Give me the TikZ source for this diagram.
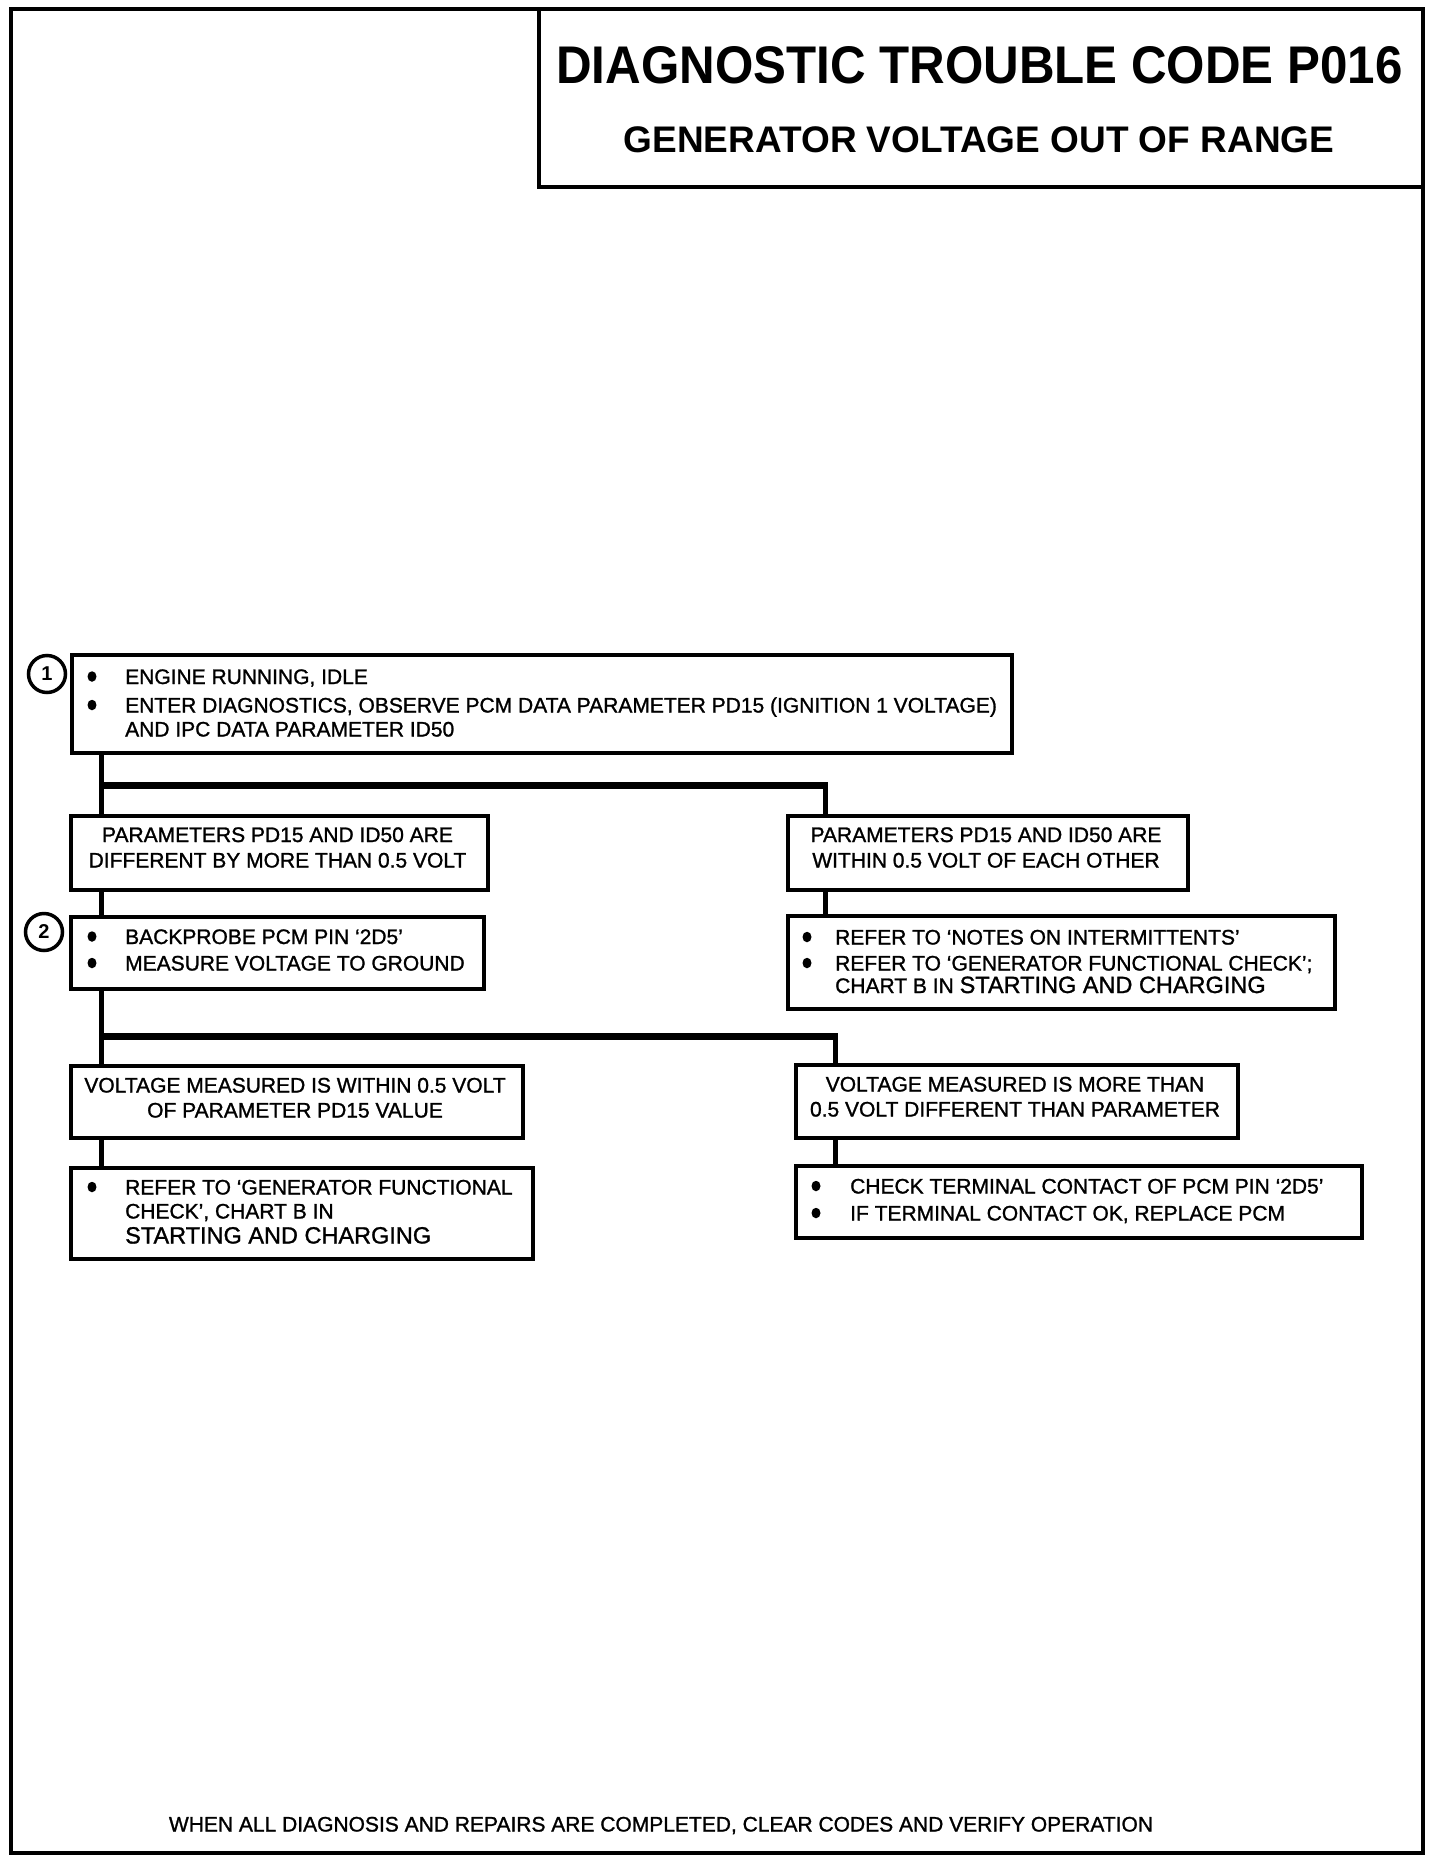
\documentclass[tikz,border=0pt]{standalone}
\usepackage{fontspec}
\usetikzlibrary{shapes.geometric}
\setmainfont{Liberation Sans}[FakeBold=1.2]
\newfontfamily\titlefont{Liberation Sans}[FakeStretch=0.93]
\newfontfamily\subfont{Liberation Sans}
\begin{document}
\begin{tikzpicture}[x=1pt,y=-1pt,
  frame/.style={draw, line width=4pt, inner sep=0pt, anchor=north west},
  box/.style={draw, line width=4pt, inner sep=0pt, anchor=north west},
  txt/.style={font=\fontsize{21}{25}\selectfont, inner sep=0pt, anchor=base west},
  ctxt/.style={font=\fontsize{21}{25}\selectfont, inner sep=0pt, anchor=base},
  dot/.style={ellipse, fill, minimum width=9pt, minimum height=10.5pt, inner sep=0pt},
  numc/.style={circle, draw, line width=3.5pt, minimum size=37pt, inner sep=0pt, font=\subfont\bfseries\fontsize{20}{20}\selectfont},
  vline/.style={line width=5pt},
  hbar/.style={line width=7pt}]
\useasboundingbox (0,0) rectangle (1440,1860);
% outer frame and title box
\node[frame, minimum width=1412.5pt, minimum height=1843.5pt] (outer) at (8.5,7.5) {};
\node[frame, minimum width=884pt, minimum height=177.5pt] (tb) at (537,7.5) {};
\node[inner sep=0pt, anchor=base, font=\titlefont\bfseries\fontsize{53}{60}\selectfont] (title) at (979.5,83) {DIAGNOSTIC TROUBLE CODE P016};
\node[inner sep=0pt, anchor=base, font=\subfont\bfseries\fontsize{37}{42}\selectfont] (subtitle) at (979,152) {GENERATOR VOLTAGE OUT OF RANGE};

% boxes
\node[box, minimum width=940pt, minimum height=98pt] (b1) at (70,653) {};
\node[box, minimum width=417pt, minimum height=74pt] (bA) at (69,814) {};
\node[box, minimum width=400pt, minimum height=74pt] (bB) at (786,814) {};
\node[box, minimum width=413pt, minimum height=72pt] (bC) at (69,915) {};
\node[box, minimum width=547pt, minimum height=93pt] (bD) at (786,914) {};
\node[box, minimum width=452pt, minimum height=72pt] (bE) at (69,1064) {};
\node[box, minimum width=442pt, minimum height=73pt] (bF) at (794,1063) {};
\node[box, minimum width=462pt, minimum height=91pt] (bG) at (69,1166) {};
\node[box, minimum width=566pt, minimum height=72pt] (bH) at (794,1164) {};

% numbered circles
\node[numc] (c1) at (47,674) {1};
\node[numc] (c2) at (44,932) {2};

% box 1
\node[dot] (d1a) at (92,676.5) {};
\node[dot] (d1b) at (92,705) {};
\node[txt] (t1a) at (125,684) {ENGINE RUNNING, IDLE};
\node[txt] (t1b) at (125,712.5) {ENTER DIAGNOSTICS, OBSERVE PCM DATA PARAMETER PD15 (IGNITION 1 VOLTAGE)};
\node[txt] (t1c) at (125,736.5) {AND IPC DATA PARAMETER ID50};

% box A / B
\node[ctxt] (tAa) at (277.5,842) {PARAMETERS PD15 AND ID50 ARE};
\node[ctxt] (tAb) at (277.5,867.5) {DIFFERENT BY MORE THAN 0.5 VOLT};
\node[ctxt] (tBa) at (986,842) {PARAMETERS PD15 AND ID50 ARE};
\node[ctxt] (tBb) at (986,867.5) {WITHIN 0.5 VOLT OF EACH OTHER};

% box C
\node[dot] (dCa) at (92,936.5) {};
\node[dot] (dCb) at (92,963) {};
\node[txt] (tCa) at (125,944) {BACKPROBE PCM PIN ‘2D5’};
\node[txt] (tCb) at (125,970.5) {MEASURE VOLTAGE TO GROUND};

% box D
\node[dot] (dDa) at (807,937) {};
\node[dot] (dDb) at (807,963) {};
\node[txt] (tDa) at (835,944.5) {REFER TO ‘NOTES ON INTERMITTENTS’};
\node[txt] (tDb) at (835,970.5) {REFER TO ‘GENERATOR FUNCTIONAL CHECK’;};
\node[txt] (tDc) at (835,993) {CHART B IN {\fontsize{23.5}{25}\selectfont STARTING AND CHARGING}};

% box E / F
\node[ctxt] (tEa) at (295,1092.5) {VOLTAGE MEASURED IS WITHIN 0.5 VOLT};
\node[ctxt] (tEb) at (295,1117.5) {OF PARAMETER PD15 VALUE};
\node[ctxt] (tFa) at (1015,1091.5) {VOLTAGE MEASURED IS MORE THAN};
\node[ctxt] (tFb) at (1015,1116.5) {0.5 VOLT DIFFERENT THAN PARAMETER};

% box G
\node[dot] (dGa) at (92,1187) {};
\node[txt] (tGa) at (125,1194.5) {REFER TO ‘GENERATOR FUNCTIONAL};
\node[txt] (tGb) at (125,1218.5) {CHECK’, CHART B IN};
\node[txt, font=\fontsize{23.5}{25}\selectfont] (tGc) at (125,1243.5) {STARTING AND CHARGING};

% box H
\node[dot] (dHa) at (816,1186) {};
\node[dot] (dHb) at (816,1213) {};
\node[txt] (tHa) at (850,1193.5) {CHECK TERMINAL CONTACT OF PCM PIN ‘2D5’};
\node[txt] (tHb) at (850,1220.5) {IF TERMINAL CONTACT OK, REPLACE PCM};

% footer
\node[ctxt] (foot) at (661,1831.5) {WHEN ALL DIAGNOSIS AND REPAIRS ARE COMPLETED, CLEAR CODES AND VERIFY OPERATION};

% connectors
\coordinate (j1) at (101,785);
\coordinate (j1r) at (825,785);
\coordinate (j2) at (101,1036);
\coordinate (j2r) at (835,1036);
\draw[vline] (b1.south -| j1) -- (bA.north -| j1);
\draw[hbar] (j1) -- ([xshift=2.5pt]j1r);
\draw[vline] ([yshift=-3.5pt]j1r) -- (bB.north -| j1r);
\draw[vline] (bA.south -| j1) -- (bC.north -| j1);
\draw[vline] (bB.south -| j1r) -- (bD.north -| j1r);
\draw[vline] (bC.south -| j2) -- (bE.north -| j2);
\draw[hbar] (j2) -- ([xshift=2.5pt]j2r);
\draw[vline] ([yshift=-3.5pt]j2r) -- (bF.north -| j2r);
\draw[vline] (bE.south -| j2) -- (bG.north -| j2);
\draw[vline] (bF.south -| j2r) -- (bH.north -| j2r);
\end{tikzpicture}
\end{document}
